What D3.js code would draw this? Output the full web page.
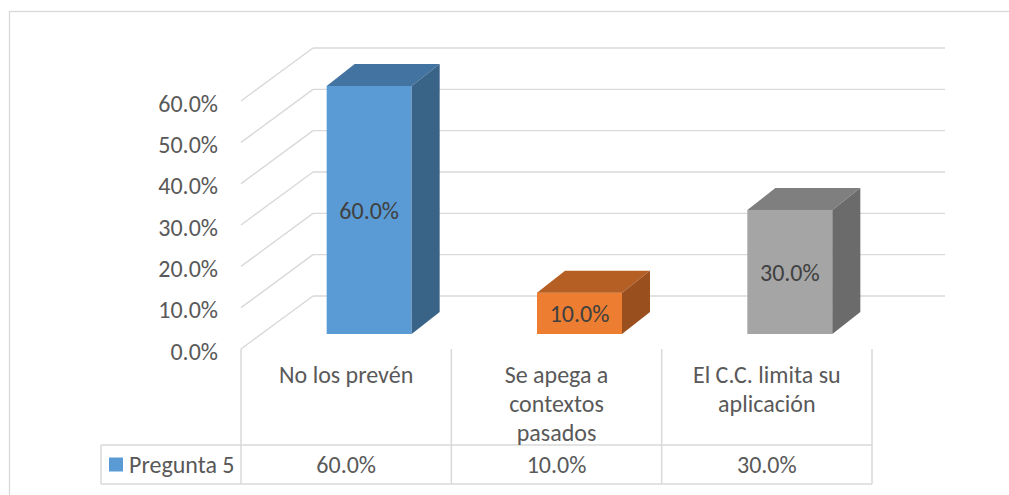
<!DOCTYPE html>
<html>
<head>
<meta charset="utf-8">
<script src="https://cdn.jsdelivr.net/npm/d3@7"></script>
<style>
  html, body { margin: 0; padding: 0; background: #ffffff; }
  svg { display: block; }
  text { font-family: Carlito, Calibri, "Open Sans", sans-serif; }
</style>
</head>
<body>
<svg id="chart" width="1009" height="495"></svg>
<script>
// ---- data ----
const categories = ["No los prevén", "Se apega a contextos pasados", "El C.C. limita su aplicación"];
const categoryLines = [["No los prevén"], ["Se apega a", "contextos", "pasados"], ["El C.C. limita su", "aplicación"]];
const seriesName = "Pregunta 5";
const values = [0.6, 0.1, 0.3];
const tickValues = [0, 0.1, 0.2, 0.3, 0.4, 0.5, 0.6];
const frontColors = ["#5B9BD5", "#ED7D31", "#A5A5A5"];
const topColors = ["#4373A0", "#B65F24", "#7F7F7F"];
const sideColors = ["#3A6388", "#9A501E", "#6B6B6B"];

// ---- layout ----
const svg = d3.select("#chart");
const fmt = d3.format(".1%");
const gridColor = "#D9D9D9";
const textColor = "#595959";
const fontSize = 24;

const x = d3.scaleBand().domain(categories).range([241, 872]);
const y = d3.scaleLinear().domain([0, 0.6]).range([349, 101]);

const backDx = 72, backDy = -53;     // back wall offset from front plane
const barFDx = 23, barFDy = -15;     // bar front face depth offset
const barDepthDx = 28, barDepthDy = -22;
const barW = 85;

// outer border
svg.append("rect").attr("x", 9.5).attr("y", 11.5).attr("width", 1200).attr("height", 600)
  .attr("fill", "none").attr("stroke", gridColor).attr("stroke-width", 1.3);

// gridlines: back wall horizontals + left wall diagonals
const grid = svg.append("g").attr("stroke", gridColor).attr("stroke-width", 1.4).attr("fill", "none");
tickValues.forEach(v => {
  const yb = y(v) + backDy;
  grid.append("line").attr("x1", x.range()[0] + backDx).attr("x2", 945).attr("y1", yb).attr("y2", yb);
  grid.append("line").attr("x1", x.range()[0] + backDx).attr("y1", yb)
    .attr("x2", x.range()[0]).attr("y2", y(v));
});

// y axis labels
svg.append("g").selectAll("text").data(tickValues).join("text")
  .attr("x", 218).attr("y", d => y(d) + 2)
  .attr("text-anchor", "end").attr("dominant-baseline", "central")
  .attr("font-size", fontSize).attr("fill", textColor)
  .text(d => fmt(d));

// bars
const bars = svg.append("g");
categories.forEach((c, i) => {
  const v = values[i];
  const bx0 = x(c) + x.bandwidth() / 2 + barFDx - barW / 2;
  const bx1 = bx0 + barW;
  const yTop = y(v) + barFDy;
  const yBot = y(0) + barFDy;
  const g = bars.append("g");
  g.append("rect").attr("x", bx0).attr("y", yTop).attr("width", barW).attr("height", yBot - yTop)
    .attr("fill", frontColors[i]);
  g.append("polygon").attr("points", [
    [bx0, yTop], [bx1, yTop], [bx1 + barDepthDx, yTop + barDepthDy], [bx0 + barDepthDx, yTop + barDepthDy]
  ].map(p => p.join(",")).join(" ")).attr("fill", topColors[i]);
  g.append("polygon").attr("points", [
    [bx1, yTop], [bx1 + barDepthDx, yTop + barDepthDy], [bx1 + barDepthDx, yBot + barDepthDy], [bx1, yBot]
  ].map(p => p.join(",")).join(" ")).attr("fill", sideColors[i]);
  g.append("text").attr("x", (bx0 + bx1) / 2).attr("y", (yTop + yBot) / 2)
    .attr("text-anchor", "middle").attr("dominant-baseline", "central")
    .attr("font-size", fontSize).attr("fill", "#404040")
    .text(fmt(v));
});

// data table
const tableTop = y(0), rowTop = 445, rowBot = 484, legendLeft = 101;
const tbl = svg.append("g").attr("stroke", gridColor).attr("stroke-width", 1.5);
const colEdges = categories.map(c => x(c)).concat([x.range()[1]]);
colEdges.forEach(cx => {
  tbl.append("line").attr("x1", cx).attr("x2", cx).attr("y1", tableTop).attr("y2", rowBot);
});
tbl.append("line").attr("x1", legendLeft).attr("x2", legendLeft).attr("y1", rowTop).attr("y2", rowBot);
tbl.append("line").attr("x1", legendLeft).attr("x2", x.range()[1]).attr("y1", rowTop).attr("y2", rowTop);
tbl.append("line").attr("x1", legendLeft).attr("x2", x.range()[1]).attr("y1", rowBot).attr("y2", rowBot);

// category labels
const lineH = 29;
categories.forEach((c, i) => {
  const t = svg.append("text").attr("text-anchor", "middle")
    .attr("font-size", fontSize).attr("fill", textColor);
  categoryLines[i].forEach((ln, k) => {
    t.append("tspan").attr("x", x(c) + x.bandwidth() / 2)
      .attr("y", 374 + k * lineH).attr("dominant-baseline", "central").text(ln);
  });
});

// legend cell
const rowMid = (rowTop + rowBot) / 2;
svg.append("rect").attr("x", 109).attr("y", rowMid - 7).attr("width", 14).attr("height", 14)
  .attr("fill", frontColors[0]);
svg.append("text").attr("x", 129).attr("y", rowMid)
  .attr("dominant-baseline", "central").attr("font-size", fontSize).attr("fill", textColor)
  .text(seriesName);

// table values
svg.append("g").selectAll("text").data(categories).join("text")
  .attr("x", d => x(d) + x.bandwidth() / 2).attr("y", rowMid)
  .attr("text-anchor", "middle").attr("dominant-baseline", "central")
  .attr("font-size", fontSize).attr("fill", textColor)
  .text((d, i) => fmt(values[i]));
</script>
</body>
</html>
